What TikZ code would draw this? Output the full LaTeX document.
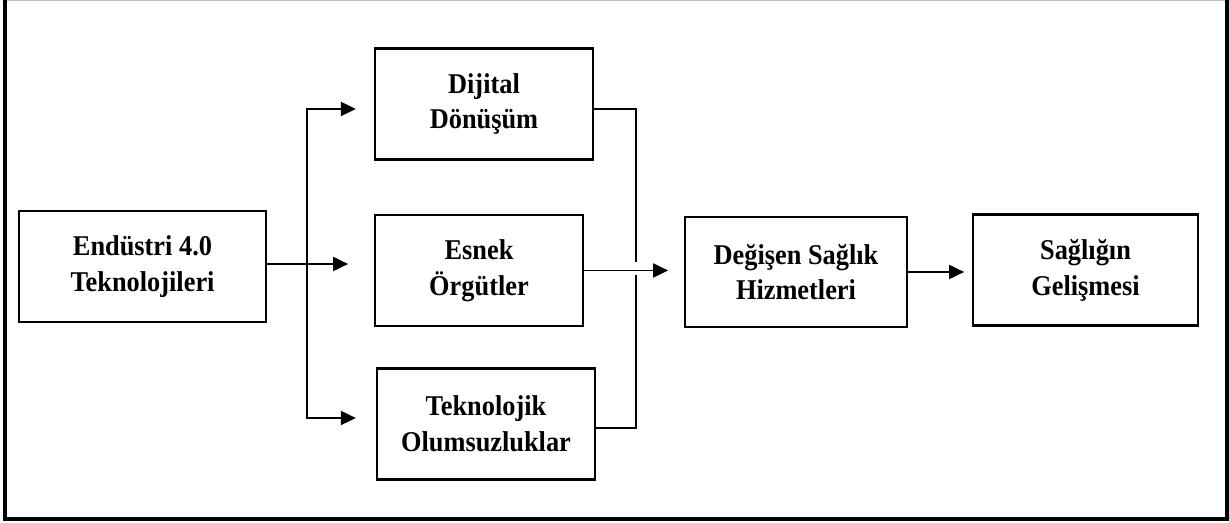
\documentclass[tikz,border=0pt]{standalone}
\usepackage{fontspec}
\setmainfont{Liberation Serif}[FakeStretch=0.92]
\usepackage{tikz}
\usetikzlibrary{arrows.meta,positioning,calc}

\begin{document}
\begin{tikzpicture}[
    font=\bfseries\fontsize{16.3}{20.4}\selectfont,
    >={Triangle[length=0.3cm,width=0.28cm]},
    line width=1.1pt,
    box/.style={
        draw,
        rectangle,
        line width=1.3pt,
        minimum width=#1,
        minimum height=2.22cm,
        align=center,
        inner sep=0pt,
    },
    box/.default=4.36cm,
]
\useasboundingbox (0,0) rectangle (24.58,10.46);

% outer frame (top edge cut off)
\draw[gray!50, line width=0.5pt] (0.10,10.45) -- (24.54,10.45);
\draw[line width=1.8pt] (0.10,10.46) |- (24.54,0.08) -- (24.54,10.46);

% =========================================================
% boxes
% =========================================================
\node[box=4.94cm] (endustri) at (2.85,5.13) {Endüstri 4.0\\Teknolojileri};

\node[box=4.36cm] (dijital) at (9.68,8.38) {Dijital\\Dönüşüm};
\node[box=4.16cm] (esnek) at (9.58,5.05) {Esnek\\Örgütler};
\node[box=4.36cm] (teknolojik) at (9.72,1.98) {Teknolojik\\Olumsuzluklar};

\node[box=4.44cm, minimum height=2.2cm] (degisen) at (15.92,5.02) {Değişen Sağlık\\Hizmetleri};
\node[box=4.50cm] (saglik) at (21.71,5.06) {Sağlığın\\Gelişmesi};

% =========================================================
% arrows
% =========================================================
% split from Endustri 4.0
\coordinate (splitTop) at (6.14,8.28);
\coordinate (splitBot) at (6.14,2.10);
\draw[->] ($(endustri.east)+(0,0.05)$) -- ++(1.62,0);
\draw[->] (splitBot) |- ($(dijital.west)+(-0.36,-0.10)$);
\draw[->] (splitTop) |- ($(teknolojik.west)+(-0.40,0.12)$);

% merge towards Degisen Saglik Hizmetleri (line broken where arrow crosses)
\coordinate (mergeA) at (12.72,5.22);
\coordinate (mergeB) at (12.72,4.96);
\draw ($(dijital.east)+(0,-0.10)$) -| (mergeA);
\draw ($(teknolojik.east)+(0,-0.08)$) -| (mergeB);
\draw[->] (esnek.east) -- ++(1.68,0);

\draw[->] (degisen.east) -- ++(1.12,0);

\end{tikzpicture}
\end{document}
